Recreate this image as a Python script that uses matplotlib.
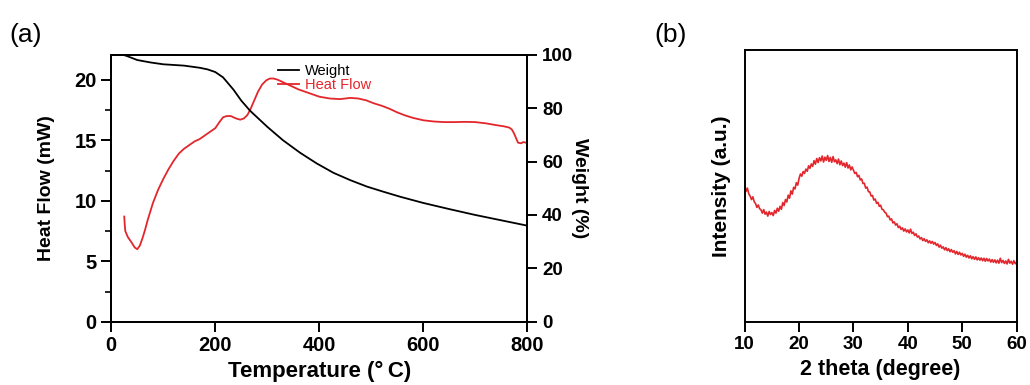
import numpy as np
import matplotlib
matplotlib.use("Agg")
from matplotlib import pyplot as plt
from matplotlib.ticker import MultipleLocator

plt.rcParams['font.family'] = ['Liberation Sans', 'DejaVu Sans']

# (a) TGA / DSC
temp_hf = [25, 26, 27, 32, 40, 45, 50, 55, 60, 65, 70, 80, 90, 100, 110, 120, 130,
           140, 150, 160, 170, 180, 190, 200, 208, 215, 222, 230, 240, 248, 255,
           262, 268, 275, 282, 290, 298, 305, 312, 320, 330, 345, 360, 380, 400,
           420, 440, 460, 475, 490, 505, 520, 535, 550, 565, 580, 600, 620, 640,
           660, 680, 700, 720, 740, 755, 765, 770, 774, 778, 782, 788, 792, 798]
heat_flow = [8.7, 8.0, 7.5, 7.0, 6.5, 6.15, 6.0, 6.3, 6.9, 7.6, 8.4, 9.8, 10.9,
             11.8, 12.6, 13.3, 13.9, 14.3, 14.6, 14.9, 15.1, 15.4, 15.7, 16.0,
             16.5, 16.9, 17.0, 17.0, 16.8, 16.7, 16.8, 17.1, 17.6, 18.3, 19.0,
             19.6, 19.95, 20.1, 20.1, 20.0, 19.8, 19.5, 19.2, 18.9, 18.6, 18.45,
             18.4, 18.5, 18.45, 18.3, 18.05, 17.85, 17.6, 17.3, 17.05, 16.85,
             16.65, 16.55, 16.5, 16.5, 16.52, 16.5, 16.4, 16.25, 16.15, 16.05,
             15.9, 15.6, 15.2, 14.8, 14.75, 14.85, 14.8]

temp_w = [25, 30, 50, 75, 100, 140, 170, 185, 200, 215, 235, 250, 267, 300, 330,
          363, 395, 427, 460, 492, 525, 556, 600, 650, 700, 750, 800]
weight = [99.8, 99.5, 98.0, 97.1, 96.4, 95.9, 95.1, 94.5, 93.5, 91.5, 86.9, 82.8,
          79.0, 73.0, 68.0, 63.3, 59.3, 55.8, 53.0, 50.6, 48.6, 46.8, 44.5, 42.2,
          40.0, 38.0, 36.0]

# (b) XRD, 10..60 deg in 0.25 deg steps
xrd_int = [
    50.5, 48.0, 49.2, 47.1, 46.3, 45.0, 46.0, 44.2, 43.5, 42.1, 43.0, 41.6, 41.2, 40.0, 41.3, 39.6, 40.4, 38.9, 40.6, 39.5,
    40.2, 39.1, 41.0, 40.0, 41.8, 40.7, 42.5, 41.4, 43.9, 42.8, 45.0, 44.1, 46.6, 45.5, 48.2, 47.0, 49.5, 48.9, 51.2, 50.3,
    52.8, 54.4, 53.6, 55.3, 54.6, 56.2, 55.4, 57.4, 56.5, 58.1, 57.2, 59.3, 58.0, 60.1, 58.6, 60.4, 59.2, 61.0, 58.8, 60.6,
    59.4, 61.2, 59.0, 60.5, 58.7, 60.8, 58.9, 59.6, 58.2, 59.9, 57.8, 59.2, 57.5, 58.4, 56.9, 58.6, 56.6, 57.7, 55.9, 57.0,
    55.8, 54.6, 55.0, 53.4, 53.9, 52.2, 52.6, 50.9, 51.0, 49.2, 49.6, 47.9, 47.8, 46.3, 46.5, 44.8, 45.2, 43.6, 44.0, 42.5,
    42.9, 41.4, 41.2, 40.3, 40.0, 38.7, 38.9, 37.5, 37.9, 36.4, 36.8, 35.6, 36.1, 34.7, 35.2, 34.0, 34.6, 33.4, 34.2, 33.1,
    33.8, 32.7, 34.1, 32.5, 33.0, 31.8, 32.4, 31.2, 31.6, 30.5, 31.0, 29.9, 30.6, 29.6, 30.2, 29.1, 29.8, 28.9, 29.6, 28.6,
    29.2, 28.1, 28.7, 27.5, 28.2, 27.1, 27.6, 26.5, 27.3, 26.2, 26.9, 25.8, 26.6, 25.6, 26.2, 25.0, 25.9, 24.8, 25.6, 24.6,
    25.2, 24.1, 24.9, 23.8, 24.5, 23.5, 24.3, 23.2, 24.0, 23.0, 23.9, 22.8, 23.6, 22.7, 23.5, 22.5, 23.4, 22.3, 23.3, 22.4,
    23.1, 22.0, 22.9, 21.9, 22.8, 21.7, 22.7, 21.6, 23.4, 21.8, 22.6, 21.5, 22.4, 21.3, 23.0, 21.6, 22.3, 21.2, 22.5, 21.4,
    22.0]
two_theta = np.linspace(10, 60, len(xrd_int))

RED = '#e3262c'

fig = plt.figure(figsize=(10.3, 3.85), dpi=100)

# ---- panel (a)
ax = fig.add_axes([0.108, 0.164, 0.404, 0.694])
ax.plot(temp_hf, heat_flow, color=RED, lw=1.3, label='Heat Flow')
ax.set_xlim(0, 800)
ax.set_ylim(0, 22.07)
ax.xaxis.set_major_locator(MultipleLocator(200))
ax.yaxis.set_major_locator(MultipleLocator(5))
ax.yaxis.set_minor_locator(MultipleLocator(2.5))
ax.set_xlabel('Temperature (°\u2009C)', fontsize=16, fontweight='bold', labelpad=4)
ax.set_ylabel('Heat Flow (mW)', fontsize=14, fontweight='bold', labelpad=14)

ax2 = ax.twinx()
ax2.plot(temp_w, weight, color='black', lw=1.3, label='Weight')
ax2.set_ylim(0, 100)
ax2.yaxis.set_major_locator(MultipleLocator(20))
ax2.set_ylabel('Weight (%)', fontsize=14, fontweight='bold', rotation=270, labelpad=11)

for a in (ax, ax2):
    for s in a.spines.values():
        s.set_linewidth(1.4)
    a.tick_params(which='major', direction='out', length=7, width=1.4, labelsize=14.5)
    a.tick_params(which='minor', direction='out', length=4, width=1.2)
    for lab in a.get_xticklabels() + a.get_yticklabels():
        lab.set_fontweight('bold')
ax2.tick_params(axis='y', labelsize=13.5)

h1, l1 = ax2.get_legend_handles_labels()
h2, l2 = ax.get_legend_handles_labels()
ax2.legend(h1 + h2, l1 + l2, loc='upper left', bbox_to_anchor=(0.37, 1.013),
           frameon=False, fontsize=10.5, handlelength=1.45, handletextpad=0.35,
           labelspacing=0.0, labelcolor='linecolor')

fig.text(0.009, 0.89, '(a)', fontsize=19)

# ---- panel (b)
bx = fig.add_axes([0.723, 0.164, 0.264, 0.706])
bx.plot(two_theta, xrd_int, color=RED, lw=1.2)
bx.set_xlim(10, 60)
bx.set_ylim(0, 100)
bx.set_yticks([])
bx.xaxis.set_major_locator(MultipleLocator(10))
bx.set_xlabel('2 theta (degree)', fontsize=15.5, fontweight='bold', labelpad=4)
bx.set_ylabel('Intensity (a.u.)', fontsize=15, fontweight='bold', labelpad=10)
for s in bx.spines.values():
    s.set_linewidth(1.4)
bx.tick_params(which='major', direction='out', length=7, width=1.4, labelsize=13.5)
for lab in bx.get_xticklabels():
    lab.set_fontweight('bold')

fig.text(0.635, 0.89, '(b)', fontsize=19)

fig.savefig('out.png', dpi=100)
